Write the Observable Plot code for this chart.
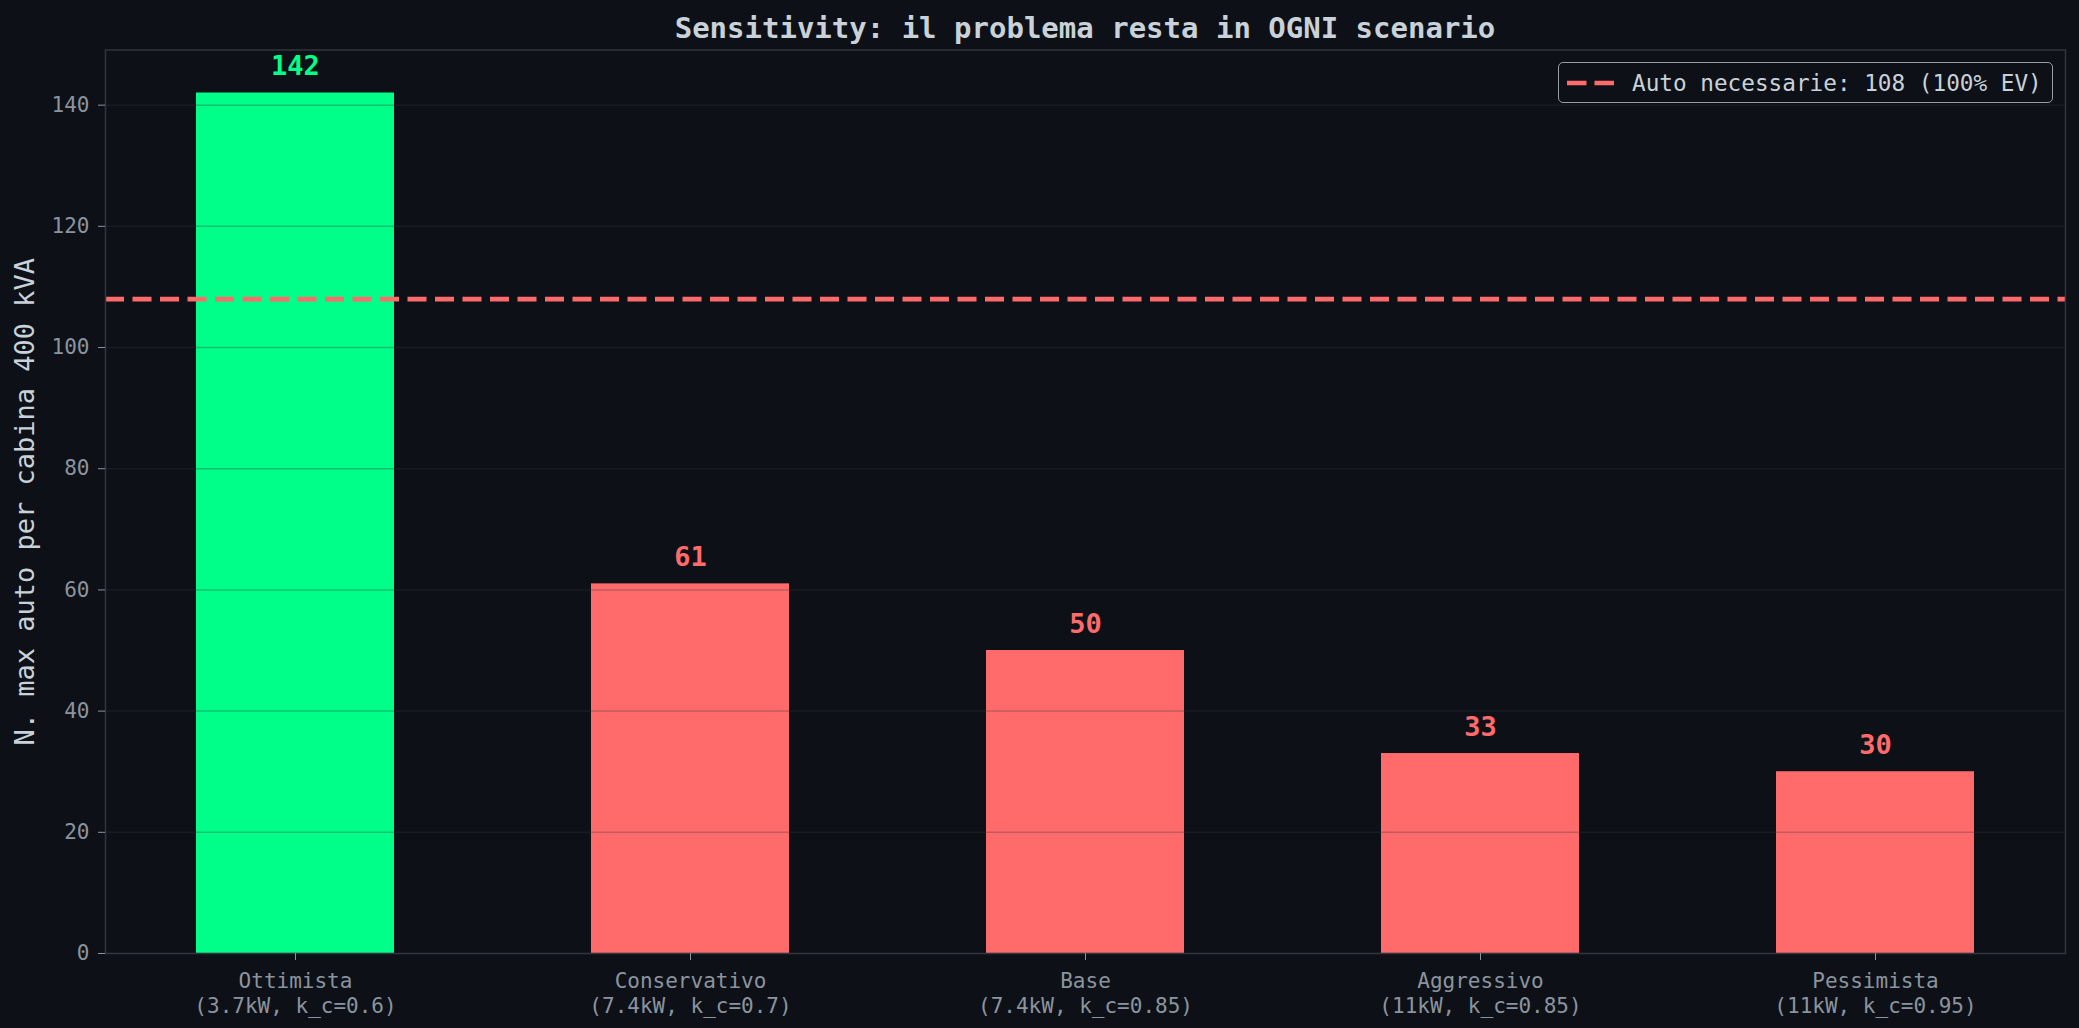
<!DOCTYPE html>
<html>
<head>
<meta charset="utf-8">
<script src="https://cdn.jsdelivr.net/npm/d3@7"></script>
<script src="https://cdn.jsdelivr.net/npm/@observablehq/plot@0.6"></script>
<style>
  html, body { margin: 0; padding: 0; background: #0d1117; overflow: hidden; }
  #wrap { position: relative; width: 2079px; height: 1028px; }
  #title { box-sizing: border-box; height: 44px; padding: 12px 14px 0 105px; line-height: 32px;
    text-align: center; font-family: "DejaVu Sans Mono", monospace; font-weight: bold; font-size: 29px; color: #c9d1d9; white-space: nowrap; }
  #legend { position: absolute; left: 1558px; top: 62px; width: 495px; height: 41px; box-sizing: border-box;
    border: 1.5px solid #9a9ea4; border-radius: 5px; background: #0d1117; display: flex; align-items: center;
    font-family: "DejaVu Sans Mono", monospace; font-size: 22.7px; color: #c9d1d9; white-space: nowrap; }
  #legend svg { margin-left: 8px; }
  #legend span { margin-left: 18px; }
</style>
</head>
<body>
<div id="wrap">
  <div id="title"></div>
  <div id="chart"></div>
  <div id="legend"></div>
</div>
<script>
const titleText = "Sensitivity: il problema resta in OGNI scenario";
const yLabel = "N. max auto per cabina 400 kVA";
const scenarios = ["Ottimista", "Conservativo", "Base", "Aggressivo", "Pessimista"];
const params = ["(3.7kW, k_c=0.6)", "(7.4kW, k_c=0.7)", "(7.4kW, k_c=0.85)", "(11kW, k_c=0.85)", "(11kW, k_c=0.95)"];
const maxCars = [142, 61, 50, 33, 30];
const required = 108;
const legendText = "Auto necessarie: 108 (100% EV)";
const yTicks = [0, 20, 40, 60, 80, 100, 120, 140];

const GREEN = "#00ff88", RED = "#ff6b6b";
const data = scenarios.map((s, i) => ({scenario: s, param: params[i], value: maxCars[i]}));
const colorOf = d => d.value >= required ? GREEN : RED;

document.getElementById("title").textContent = titleText;

const chart = Plot.plot({
  width: 2079,
  height: 984,
  marginTop: 5.5,
  marginRight: 14,
  marginBottom: 75,
  marginLeft: 105,
  style: {background: "transparent", color: "#8b949e", fontFamily: "DejaVu Sans Mono"},
  x: {type: "band", domain: scenarios, paddingInner: 0.5, paddingOuter: 0.225, align: 0.5, label: null},
  y: {domain: [0, max(maxCars) * 1.05], label: null},
  marks: [
    Plot.barY(data, {x: "scenario", y: "value", fill: colorOf}),
    Plot.gridY(yTicks, {stroke: "#30363d", strokeOpacity: 0.3, strokeWidth: 1.5}),
    Plot.ruleY([required], {stroke: RED, strokeWidth: 4.7, strokeDasharray: "19,8.5"}),
    Plot.text(data, {x: "scenario", y: "value", text: d => String(d.value), fill: colorOf,
      lineAnchor: "bottom", dy: -18, fontSize: 27, fontWeight: "bold"}),
    Plot.frame({stroke: "#30363d", strokeWidth: 1.5}),
    Plot.axisY({ticks: yTicks, tickSize: 7, tickPadding: 9, fontSize: 21, color: "#8b949e", label: null}),
    Plot.axisX({tickSize: 7, tickPadding: 10, fontSize: 21, color: "#8b949e", lineHeight: 1.17, label: null,
      tickFormat: d => d + "\n" + params[scenarios.indexOf(d)]}),
    Plot.text([yLabel], {frameAnchor: "left", rotate: -90, dx: -80, fill: "#c9d1d9", fontSize: 27,
      textAnchor: "middle", lineAnchor: "middle"})
  ]
});
function max(a) { return Math.max(...a); }
document.getElementById("chart").appendChild(chart);

const lg = document.getElementById("legend");
lg.innerHTML = `<svg width="47" height="8"><line x1="0" y1="4" x2="47" y2="4" stroke="${RED}" stroke-width="4.7" stroke-dasharray="19.5,8"/></svg><span></span>`;
lg.querySelector("span").textContent = legendText;
</script>
</body>
</html>
